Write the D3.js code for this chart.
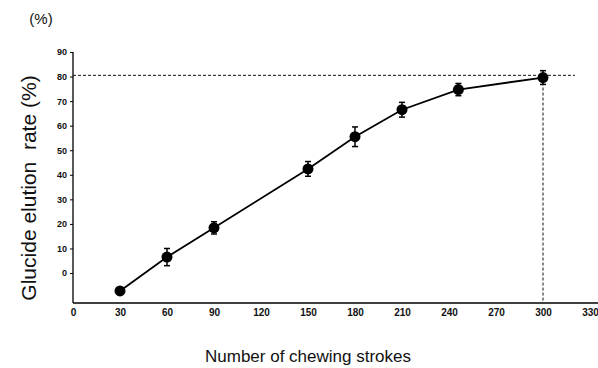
<!DOCTYPE html>
<html>
<head>
<meta charset="utf-8">
<script src="https://cdn.jsdelivr.net/npm/d3@7"></script>
<style>
  body { margin: 0; background: #fff; }
  svg { display: block; font-family: "Liberation Sans", Arial, sans-serif; }
</style>
</head>
<body>
<div id="chart"></div>
<script>
// chewing strokes vs glucide elution rate
const strokes = [30, 60, 90, 150, 180, 210, 246, 300];
const elution = [-7.3, 6.5, 18.4, 42.4, 55.5, 66.5, 74.7, 79.6];
const errors = [0, 3.5, 2.5, 3, 4, 3, 2.5, 2.8];
const xTicks = [0, 30, 60, 90, 120, 150, 180, 210, 240, 270, 300, 330];
const yTicks = [0, 10, 20, 30, 40, 50, 60, 70, 80, 90];
const refLevel = 80.5;
const refStroke = 300;

const width = 598, height = 368;

const svg = d3.select("#chart")
  .append("svg")
  .attr("width", width)
  .attr("height", height);

// scales
const x = d3.scaleLinear().domain([0, 300]).range([73, 543]);
const y = d3.scaleLinear().domain([-12.2, 90]).range([303, 52]);

// x axis
const xAxis = svg.append("g")
  .attr("transform", "translate(0," + y(-12.2) + ")")
  .call(d3.axisBottom(x).tickValues(xTicks).tickSize(0).tickPadding(6));
xAxis.select(".domain").attr("d", "M" + x(0) + ",0H" + (x(330) + 8)).attr("stroke-width", 1.5);
xAxis.selectAll("text")
  .style("font-size", "10px")
  .style("font-weight", "bold")
  .attr("fill", "#111");

// y axis
const yAxis = svg.append("g")
  .attr("transform", "translate(" + x(0) + ",0)")
  .call(d3.axisLeft(y).tickValues(yTicks).tickSize(3).tickPadding(3));
yAxis.select(".domain").attr("d", "M0," + y(-12.2) + "V" + y(90)).attr("stroke-width", 1.3);
yAxis.selectAll("text")
  .style("font-size", "9px")
  .style("font-weight", "bold")
  .attr("fill", "#111");

// reference dashed lines
svg.append("line")
  .attr("x1", x(0)).attr("x2", x(330) - 15)
  .attr("y1", y(refLevel)).attr("y2", y(refLevel))
  .attr("stroke", "#111").attr("stroke-width", 1)
  .attr("stroke-dasharray", "3,2");

svg.append("line")
  .attr("x1", x(refStroke)).attr("x2", x(refStroke))
  .attr("y1", y(elution[7])).attr("y2", y(-12.2))
  .attr("stroke", "#111").attr("stroke-width", 1)
  .attr("stroke-dasharray", "3,2");

const data = strokes.map((s, i) => ({ s: s, v: elution[i], e: errors[i] }));

// line
svg.append("path")
  .datum(data)
  .attr("fill", "none")
  .attr("stroke", "#000")
  .attr("stroke-width", 1.8)
  .attr("d", d3.line().x(d => x(d.s)).y(d => y(d.v)));

// error bars
const eb = svg.selectAll(".err")
  .data(data.filter(d => d.e > 0))
  .enter()
  .append("g")
  .attr("class", "err")
  .attr("stroke", "#000")
  .attr("stroke-width", 1.5);
eb.append("line")
  .attr("x1", d => x(d.s)).attr("x2", d => x(d.s))
  .attr("y1", d => y(d.v + d.e)).attr("y2", d => y(d.v - d.e));
eb.append("line")
  .attr("x1", d => x(d.s) - 3).attr("x2", d => x(d.s) + 3)
  .attr("y1", d => y(d.v + d.e)).attr("y2", d => y(d.v + d.e));
eb.append("line")
  .attr("x1", d => x(d.s) - 3).attr("x2", d => x(d.s) + 3)
  .attr("y1", d => y(d.v - d.e)).attr("y2", d => y(d.v - d.e));

// markers
svg.selectAll(".dot")
  .data(data)
  .enter()
  .append("circle")
  .attr("class", "dot")
  .attr("cx", d => x(d.s))
  .attr("cy", d => y(d.v))
  .attr("r", 5.5)
  .attr("fill", "#000");

// labels
svg.append("text")
  .attr("x", 41)
  .attr("y", 24)
  .attr("text-anchor", "middle")
  .style("font-size", "15px")
  .attr("fill", "#111")
  .text("(%)");

svg.append("text")
  .attr("transform", "rotate(-90)")
  .attr("x", -188)
  .attr("y", 36)
  .attr("text-anchor", "middle")
  .style("font-size", "21px")
  .attr("fill", "#111")
  .text("Glucide elution\u00a0\u00a0rate (%)");

svg.append("text")
  .attr("x", 308)
  .attr("y", 362)
  .attr("text-anchor", "middle")
  .style("font-size", "17px")
  .attr("fill", "#111")
  .text("Number of chewing strokes");
</script>
</body>
</html>
